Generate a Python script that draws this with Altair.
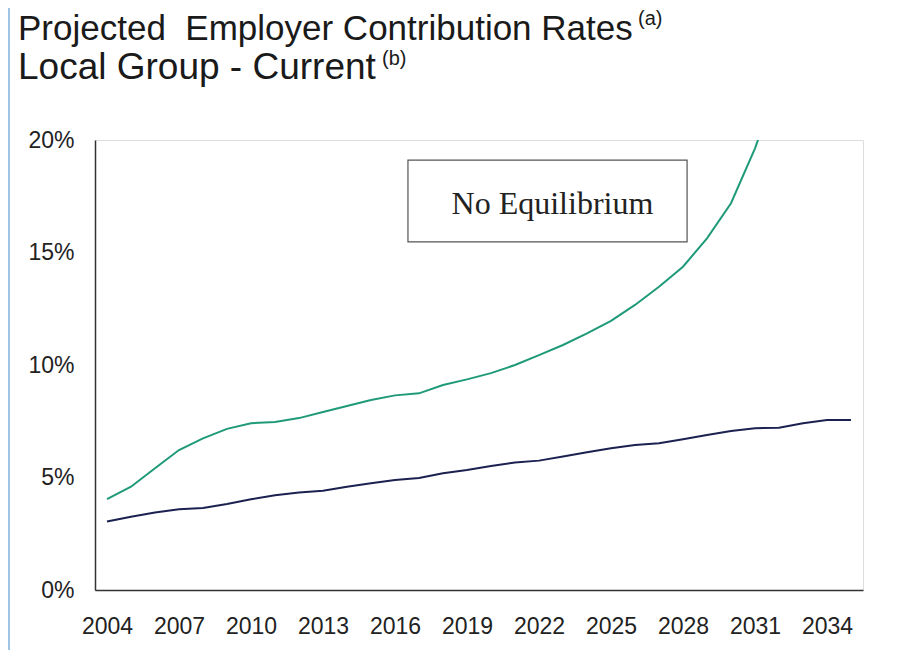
import altair as alt
import pandas as pd

years = list(range(2004, 2036))
current = [3.04, 3.26, 3.44, 3.59, 3.64, 3.82, 4.03, 4.21, 4.33, 4.41, 4.59, 4.74,
           4.89, 4.98, 5.19, 5.33, 5.51, 5.67, 5.75, 5.93, 6.12, 6.30, 6.44, 6.52,
           6.70, 6.89, 7.07, 7.19, 7.21, 7.41, 7.56, 7.56]
green_years = list(range(2004, 2033))
no_equilibrium = [4.04, 4.59, 5.41, 6.22, 6.74, 7.16, 7.41, 7.47, 7.64, 7.91, 8.18, 8.44,
                  8.65, 8.74, 9.11, 9.36, 9.64, 10.0, 10.44, 10.89, 11.41, 11.96, 12.67,
                  13.48, 14.37, 15.63, 17.19, 19.63, 22.6]
x_ticks = [2004, 2007, 2010, 2013, 2016, 2019, 2022, 2025, 2028, 2031, 2034]
y_ticks = [0, 5, 10, 15, 20]

title_line1 = "Projected\u00a0 Employer Contribution Rates"
title_line2 = "Local Group - Current"
sup1 = "(a)"
sup2 = "(b)"
box_label = "No Equilibrium"

df_cur = pd.DataFrame({"year": years, "rate": current})
df_ne = pd.DataFrame({"year": green_years, "rate": no_equilibrium})
df_box = pd.DataFrame({"x": [2016.54], "x2": [2028.17], "y": [19.11], "y2": [15.47],
                       "tx": [2022.56], "ty": [16.7], "label": [box_label]})

xscale = alt.Scale(domain=[2003.5, 2035.5], nice=False, zero=False)
yscale = alt.Scale(domain=[0, 20], nice=False)

xax = alt.Axis(values=x_ticks, format="d", title=None, grid=False, ticks=False,
               labelFontSize=23, labelFont="Liberation Sans", labelColor="#222222",
               labelPadding=25, domainColor="#333333", domainWidth=1.5, labelFlush=False)
yax = alt.Axis(values=y_ticks, labelExpr="datum.value + '%'", title=None, grid=False,
               ticks=False, labelFontSize=23, labelFont="Liberation Sans",
               labelColor="#222222", labelPadding=21, domainColor="#333333", domainWidth=1.5)

line_cur = alt.Chart(df_cur).mark_line(color="#1b2150", strokeWidth=2).encode(
    x=alt.X("year:Q", scale=xscale, axis=xax),
    y=alt.Y("rate:Q", scale=yscale, axis=yax),
)
line_ne = alt.Chart(df_ne).mark_line(color="#1f9a78", strokeWidth=2, clip=True).encode(
    x=alt.X("year:Q", scale=xscale),
    y=alt.Y("rate:Q", scale=yscale),
)
box = alt.Chart(df_box).mark_rect(fill="white", stroke="#555555", strokeWidth=1.2).encode(
    x="x:Q", x2="x2:Q", y="y:Q", y2="y2:Q"
)
box_text = alt.Chart(df_box).mark_text(font="Liberation Serif", fontSize=32,
                                       color="#222222", align="center",
                                       baseline="alphabetic").encode(
    x="tx:Q", y="ty:Q", text="label:N"
)

tdf = pd.DataFrame({"t": [0]})
def label(text, x, y, size, baseline="alphabetic"):
    return alt.Chart(tdf).mark_text(text=text, font="Liberation Sans", fontSize=size,
                                    color="#1a1a1a", align="left",
                                    baseline=baseline).encode(
        x=alt.value(x), y=alt.value(y))

t1 = label(title_line1, -77, -100, 35)
t2 = label(title_line2, -77, -61, 37)
s1 = label(sup1, 543, -131, 20, "top")
s2 = label(sup2, 287, -91, 20, "top")

border = alt.Chart(tdf).mark_rule(color="#7fb0e0", strokeWidth=1.5).encode(
    x=alt.value(-86), y=alt.value(-132), y2=alt.value(526)
)

chart = alt.layer(line_cur, line_ne, box, box_text, t1, t2, s1, s2, border).properties(
    width=768, height=450,
    autosize=alt.AutoSizeParams(type="none"),
    padding={"left": 87, "top": 132, "right": 30, "bottom": 60},
).configure_view(stroke="#888888", strokeWidth=1.2).configure(background="white")

chart.save("out.html", embed_options={"renderer": "svg", "actions": False})
